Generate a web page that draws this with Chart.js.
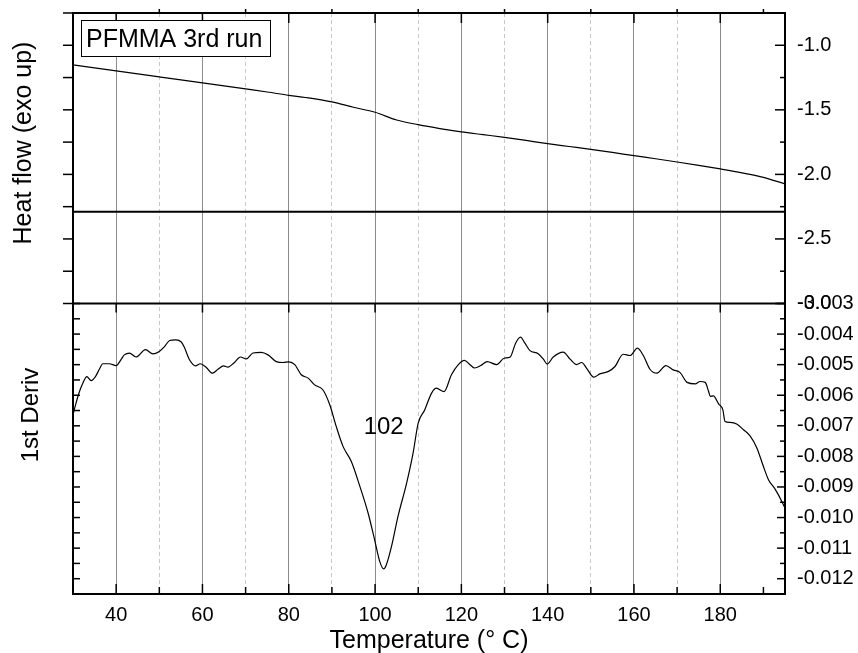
<!DOCTYPE html>
<html>
<head>
<meta charset="utf-8">
<script src="https://cdn.jsdelivr.net/npm/chart.js@4.4.0/dist/chart.umd.min.js"></script>
<style>
  body { margin: 0; background: #fff; }
  #wrap { width: 858px; height: 653px; }
</style>
</head>
<body>
<div id="wrap"><canvas id="dscChart" width="858" height="653"></canvas></div>
<script>
// heat flow trace (top panel)
const heatTemp = [30, 35, 40, 45, 50, 55, 60, 65, 70, 75, 80, 85, 90, 95, 100,
  105, 110, 115, 120, 125, 130, 135, 140, 145, 150, 155, 160, 165, 170, 175,
  180, 185, 190, 195];
const heatFlow = [-1.152, -1.175, -1.198, -1.222, -1.245, -1.268, -1.291,
  -1.314, -1.338, -1.362, -1.388, -1.41, -1.439, -1.48, -1.519, -1.579,
  -1.615, -1.645, -1.671, -1.692, -1.713, -1.737, -1.762, -1.784, -1.806,
  -1.83, -1.855, -1.879, -1.904, -1.93, -1.958, -1.988, -2.023, -2.074];

// flat reference line in the heat flow panel
const baselineTemp = [30, 195];
const baselineFlow = [-2.29, -2.29];

// first derivative (bottom panel)
const derivTemp = [30, 30.7, 31.5, 32.3, 33.2, 34.2, 35.2, 36.1, 36.9, 38.4,
  40, 41.2, 41.9, 43.1, 44.6, 46.8, 48.5, 50, 51.2, 52.4, 53.8, 55.1, 55.8,
  57, 58.4, 59.5, 60.9, 62.3, 63.6, 64.9, 65.9, 67.4, 68.8, 70.2, 71.7, 73.6,
  75.2, 77.1, 78.7, 80, 81.4, 82.9, 84.5, 86, 87.9, 89.5, 91, 92.6, 94.5,
  96.5, 98.4, 99.9, 101.1, 102, 102.6, 103.8, 105.3, 107.3, 108.8, 110,
  111.5, 113.1, 114.2, 116, 117.7, 119.3, 120.7, 122, 123.1, 124.5, 126,
  128.2, 129.9, 131.3, 132.6, 133.7, 134.7, 135.9, 137.8, 139, 139.9, 141.3,
  143.6, 145.2, 146.7, 147.9, 149, 150.7, 152.1, 154.1, 155.6, 157.5, 159.1,
  160.8, 162.2, 163.7, 165.3, 167.4, 169.1, 170.7, 172.3, 174.2, 175.3,
  176.5, 177.3, 177.7, 178.4, 179.6, 180.6, 181.1, 182.3, 183.8, 185.4,
  186.9, 188.5, 190, 191.2, 192.7, 194.3, 195];
const derivValue = [-0.00664, -0.00626, -0.00588, -0.0056, -0.00539, -0.00552,
  -0.00539, -0.00515, -0.00497, -0.00497, -0.00503, -0.00482, -0.00468,
  -0.00462, -0.00475, -0.00451, -0.00465, -0.00457, -0.00441, -0.00421,
  -0.00419, -0.00426, -0.00443, -0.00484, -0.00504, -0.00497, -0.00509,
  -0.00528, -0.00515, -0.00504, -0.00508, -0.00493, -0.00475, -0.00481,
  -0.00462, -0.0046, -0.00468, -0.0049, -0.00493, -0.00491, -0.005, -0.00533,
  -0.00544, -0.00566, -0.00582, -0.00631, -0.00702, -0.00768, -0.00817,
  -0.00899, -0.00986, -0.01073, -0.01144, -0.01168, -0.01155, -0.01095,
  -0.00997, -0.00888, -0.0079, -0.00691, -0.00648, -0.00593, -0.00577,
  -0.00588, -0.00533, -0.005, -0.00486, -0.005, -0.00511, -0.00503, -0.0049,
  -0.005, -0.00479, -0.00475, -0.00429, -0.0041, -0.00429, -0.00454,
  -0.00464, -0.00482, -0.00498, -0.00475, -0.00459, -0.00482, -0.005,
  -0.00493, -0.00511, -0.00541, -0.0053, -0.00522, -0.00506, -0.00466,
  -0.0047, -0.00446, -0.00471, -0.00515, -0.00528, -0.00503, -0.00517,
  -0.00526, -0.00558, -0.00563, -0.00555, -0.00558, -0.00588, -0.00604,
  -0.00602, -0.00628, -0.00648, -0.00686, -0.00689, -0.00694, -0.00713,
  -0.00733, -0.00773, -0.00833, -0.00877, -0.00907, -0.00948, -0.0097];

const tempLabels = [40, 60, 80, 100, 120, 140, 160, 180];
const heatLabels = [-1.0, -1.5, -2.0, -2.5, -3.0];
const derivLabels = [-0.003, -0.004, -0.005, -0.006, -0.007, -0.008, -0.009,
  -0.010, -0.011, -0.012];

const peakTemp = 102;
const runName = "PFMMA 3rd run";

const FONT = '"Liberation Sans", Arial, sans-serif';

function toPoints(xs, ys) {
  return xs.map((x, i) => ({ x: x, y: ys[i] }));
}

function hasLabel(list, v) {
  return list.some((l) => Math.abs(l - v) < 1e-9);
}

function line(ctx, x1, y1, x2, y2) {
  ctx.beginPath();
  ctx.moveTo(x1, y1);
  ctx.lineTo(x2, y2);
  ctx.stroke();
}

// frame, tick marks and the free text
const decorPlugin = {
  id: "decor",
  afterDraw(chart) {
    const ctx = chart.ctx;
    const area = chart.chartArea;
    const xs = chart.scales.x;
    const yHeat = chart.scales.yHeat;
    const yDeriv = chart.scales.yDeriv;
    const split = yDeriv.top;

    ctx.save();
    ctx.strokeStyle = "#000";
    ctx.lineWidth = 1.5;

    // temperature ticks
    for (let t = 40; t <= 190; t += 10) {
      const px = xs.getPixelForValue(t);
      const major = t % 20 === 0;
      line(ctx, px, area.bottom, px, area.bottom - (major ? 10 : 7));
      if (major) {
        line(ctx, px, area.top, px, area.top + 10);
        line(ctx, px, split, px, split + 9);
      } else {
        line(ctx, px, area.top, px, area.top - 4);
      }
    }

    // heat flow ticks: outward on the left, inward on the right
    for (let v = -3.0; v <= -0.75 + 1e-9; v += 0.25) {
      const py = yHeat.getPixelForValue(v);
      const major = Math.round(v * 4) % 2 === 0;
      line(ctx, area.left - 10, py, area.left, py);
      line(ctx, area.right, py, area.right - (major ? 10 : 5), py);
    }

    // derivative ticks: inward on both sides
    for (let v = -0.0125; v <= -0.003 + 1e-9; v += 0.0005) {
      const py = yDeriv.getPixelForValue(v);
      const major = Math.abs(Math.round(v * 2000)) % 2 === 0;
      line(ctx, area.left, py, area.left + 7, py);
      line(ctx, area.right, py, area.right - (major ? 8 : 5), py);
    }

    // panel frames
    ctx.lineWidth = 2;
    ctx.strokeRect(area.left, area.top, area.right - area.left, area.bottom - area.top);
    line(ctx, area.left, split, area.right, split);

    // run name box
    ctx.fillStyle = "#fff";
    ctx.fillRect(81, 20.5, 189, 36);
    ctx.lineWidth = 1;
    ctx.strokeRect(81.5, 20.5, 189, 36);
    ctx.fillStyle = "#000";
    ctx.font = "25px " + FONT;
    ctx.textAlign = "left";
    ctx.textBaseline = "alphabetic";
    ctx.fillText(runName, 86, 47);

    // peak temperature
    ctx.font = "24px " + FONT;
    ctx.textAlign = "center";
    ctx.fillText(String(peakTemp), xs.getPixelForValue(peakTemp), 434);

    // axis titles
    ctx.font = "25px " + FONT;
    ctx.fillText("Temperature (\u00B0 C)", (area.left + area.right) / 2 + 0, 648);

    ctx.save();
    ctx.translate(31, 143);
    ctx.rotate(-Math.PI / 2);
    ctx.fillText("Heat flow (exo up)", 0, 0);
    ctx.restore();

    ctx.save();
    ctx.translate(38, 415);
    ctx.rotate(-Math.PI / 2);
    ctx.font = "24px " + FONT;
    ctx.fillText("1st Deriv", 0, 0);
    ctx.restore();

    ctx.restore();
  },
};

function rightAxis(min, max, step, labels, digits) {
  return {
    type: "linear",
    position: "right",
    stack: "panels",
    stackWeight: 1,
    min: min,
    max: max,
    grid: { display: false, drawTicks: false },
    border: { display: false },
    ticks: {
      stepSize: step,
      autoSkip: false,
      padding: 12,
      color: "#000",
      font: { family: FONT, size: 20 },
      callback: (v) => (hasLabel(labels, v) ? Number(v).toFixed(digits) : ""),
    },
    afterFit: (scale) => {
      scale.width = 73;
      scale.paddingTop = 0;
      scale.paddingBottom = 0;
    },
  };
}

window.addEventListener("load", () => {
  const ctx = document.getElementById("dscChart").getContext("2d");
  new Chart(ctx, {
    type: "line",
    data: {
      datasets: [
        {
          label: "Heat flow",
          data: toPoints(heatTemp, heatFlow),
          yAxisID: "yHeat",
          borderColor: "#000",
          borderWidth: 1.2,
          pointRadius: 0,
          cubicInterpolationMode: "monotone",
        },
        {
          label: "Baseline",
          data: toPoints(baselineTemp, baselineFlow),
          yAxisID: "yHeat",
          borderColor: "#000",
          borderWidth: 2,
          pointRadius: 0,
        },
        {
          label: "1st Deriv",
          data: toPoints(derivTemp, derivValue),
          yAxisID: "yDeriv",
          borderColor: "#000",
          borderWidth: 1.2,
          pointRadius: 0,
          cubicInterpolationMode: "monotone",
        },
      ],
    },
    options: {
      responsive: false,
      animation: false,
      layout: { padding: { left: 73, top: 13, right: 0, bottom: 0 } },
      plugins: {
        legend: { display: false },
        tooltip: { enabled: false },
      },
      scales: {
        x: {
          type: "linear",
          position: "bottom",
          min: 30,
          max: 195,
          grid: {
            drawTicks: false,
            lineWidth: 1,
            color: (c) => {
              const v = c.tick ? c.tick.value : 0;
              if (v <= 30 || v >= 195) return "rgba(0,0,0,0)";
              return v % 20 === 0 ? "#8c8c8c" : "#c8c8c8";
            },
          },
          border: {
            display: false,
            dash: (c) => (c.tick && c.tick.value % 20 === 0 ? [] : [4, 3]),
          },
          ticks: {
            stepSize: 10,
            autoSkip: false,
            maxRotation: 0,
            padding: 9,
            color: "#000",
            font: { family: FONT, size: 20 },
            callback: (v) => (tempLabels.includes(v) ? String(v) : ""),
          },
          afterFit: (scale) => {
            scale.height = 59;
            scale.paddingLeft = 0;
            scale.paddingRight = 0;
          },
        },
        yHeat: rightAxis(-3.0, -0.75, 0.25, heatLabels, 1),
        yDeriv: rightAxis(-0.0125, -0.003, 0.0005, derivLabels, 3),
      },
    },
    plugins: [decorPlugin],
  });
});
</script>
</body>
</html>
